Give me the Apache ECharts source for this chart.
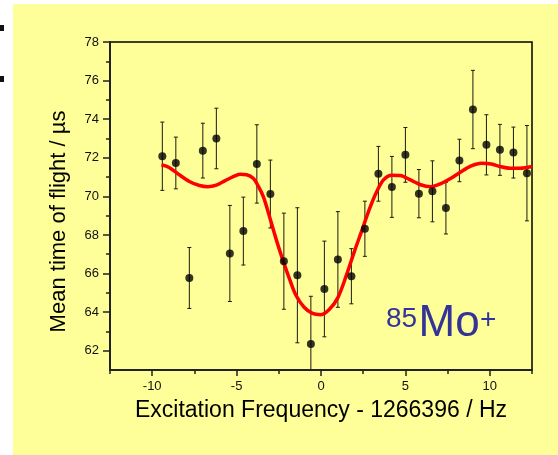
<!DOCTYPE html>
<html><head><meta charset="utf-8">
<script src="https://cdn.jsdelivr.net/npm/echarts@6/dist/echarts.min.js"></script>
<style>html,body{margin:0;padding:0;background:#fff}#c{width:558px;height:455px}</style>
</head><body><div id="c"></div>
<script>
// Measured data: frequency offset (Hz), mean time of flight (µs), error (µs)
const freqOffsets = [-9.4,-8.6,-7.8,-7.0,-6.2,-5.4,-4.6,-3.8,-3.0,-2.2,-1.4,-0.6,0.2,1.0,1.8,2.6,3.4,4.2,5.0,5.8,6.6,7.4,8.2,9.0,9.8,10.6,11.4,12.2];
const meanTof = [72.08,71.73,65.77,72.37,73.0,67.04,68.2,71.68,70.12,66.64,65.91,62.35,65.2,66.73,65.86,68.32,71.17,70.49,72.15,70.14,70.26,69.39,71.86,74.5,72.67,72.41,72.27,71.2];
const tofErr = [1.77,1.34,1.58,1.42,1.57,2.49,1.76,2.03,1.76,2.49,3.5,2.47,2.48,2.48,1.43,1.43,1.42,1.58,1.42,1.25,1.58,1.34,1.1,2.03,1.56,1.32,1.32,2.47];
// Fit curve
const fitX = [-9.45,-9.0,-8.4,-7.8,-7.2,-6.7,-6.2,-5.7,-5.2,-4.8,-4.4,-4.0,-3.7,-3.4,-3.1,-2.7,-2.3,-1.9,-1.5,-1.0,-0.5,0.0,0.5,1.0,1.5,2.0,2.45,2.85,3.25,3.7,4.2,4.7,5.3,5.9,6.5,7.1,7.7,8.3,8.9,9.5,10.1,10.6,11.2,11.8,12.5];
const fitY = [71.64,71.5,71.12,70.77,70.56,70.5,70.58,70.8,71.02,71.14,71.12,70.92,70.5,69.95,69.1,67.9,66.8,65.8,64.9,64.25,63.93,63.87,64.15,64.75,65.9,67.2,68.3,69.3,70.15,70.85,71.1,71.08,70.85,70.6,70.5,70.66,70.94,71.28,71.58,71.72,71.68,71.55,71.46,71.46,71.55];
// Axis ticks
const xMajorTicks = [-10,-5,0,5,10];
const xMinorTicks = [-12.5,-7.5,-2.5,2.5,7.5,12.5];
const yMajorTicks = [62,64,66,68,70,72,74,76,78];
const yMinorTicks = [63,65,67,69,71,73,75,77];

const FONT = 'Liberation Sans, Arial, sans-serif';
const chart = echarts.init(document.getElementById('c'));

function renderErr(params, api){
  const x = api.value(0), lo = api.value(1), hi = api.value(2);
  const pHi = api.coord([x, hi]), pLo = api.coord([x, lo]);
  const cap = 2;
  const style = {stroke:'#1a1a10', lineWidth:1};
  return {type:'group', children:[
    {type:'line', shape:{x1:pHi[0],y1:pHi[1],x2:pLo[0],y2:pLo[1]}, style:style},
    {type:'line', shape:{x1:pHi[0]-cap,y1:pHi[1],x2:pHi[0]+cap,y2:pHi[1]}, style:style},
    {type:'line', shape:{x1:pLo[0]-cap,y1:pLo[1],x2:pLo[0]+cap,y2:pLo[1]}, style:style}
  ]};
}

const option = {
  backgroundColor:'#ffff99',
  animation:false,
  grid:{left:110, top:42, width:422, height:328, show:true, borderColor:'#000', borderWidth:1.5, backgroundColor:'transparent'},
  xAxis:[{
    type:'value', min:-12.5, max:12.5, position:'bottom',
    axisLine:{show:true, onZero:false, lineStyle:{color:'#222', width:2}},
    axisTick:{show:true, customValues:xMajorTicks, length:6, lineStyle:{color:'#222', width:1.5}},
    axisLabel:{show:true, customValues:xMajorTicks, margin:10, fontSize:13, color:'#111', fontFamily:FONT},
    splitLine:{show:false},
    name:'Excitation Frequency - 1266396 / Hz', nameLocation:'middle', nameGap:29,
    nameTextStyle:{fontSize:23, color:'#000', fontFamily:FONT}
  },{
    type:'value', min:-12.5, max:12.5, position:'bottom',
    axisLine:{show:false, onZero:false},
    axisTick:{show:true, customValues:xMinorTicks, length:4, lineStyle:{color:'#222', width:1.5}},
    axisLabel:{show:false}, splitLine:{show:false}
  }],
  yAxis:[{
    type:'value', min:61, max:78, position:'left',
    axisLine:{show:true, onZero:false, lineStyle:{color:'#222', width:2}},
    axisTick:{show:true, customValues:yMajorTicks, length:7, lineStyle:{color:'#222', width:1.5}},
    axisLabel:{show:true, customValues:yMajorTicks, margin:11, fontSize:13, color:'#111', fontFamily:FONT},
    splitLine:{show:false},
    name:'Mean time of flight / \u00b5s', nameLocation:'middle', nameGap:40,
    nameTextStyle:{fontSize:22, color:'#000', fontFamily:FONT, padding:[0,31,0,0]}
  },{
    type:'value', min:61, max:78, position:'left',
    axisLine:{show:false, onZero:false},
    axisTick:{show:true, customValues:yMinorTicks, length:4, lineStyle:{color:'#222', width:1.5}},
    axisLabel:{show:false}, splitLine:{show:false}
  }],
  graphic:[
    {type:'rect', left:0, top:0, shape:{width:13, height:455}, style:{fill:'#ffffff'}, silent:true},
    {type:'rect', left:0, top:0, shape:{width:558, height:4}, style:{fill:'#ffffff'}, silent:true},
    {type:'rect', left:0, top:25, shape:{width:4, height:6}, style:{fill:'#111'}, silent:true},
    {type:'rect', left:0, top:76, shape:{width:4, height:6}, style:{fill:'#111'}, silent:true},
    {type:'text', x:386, y:305, z:100, style:{text:'85', fontSize:28, fontFamily:FONT, fill:'#333399', verticalAlign:'top'}},
    {type:'text', x:418.5, y:302, z:100, style:{text:'Mo', fontSize:44, fontFamily:FONT, fill:'#333399', verticalAlign:'top'}},
    {type:'text', x:480, y:306, z:100, style:{text:'+', fontSize:28, fontFamily:FONT, fill:'#333399', verticalAlign:'top'}}
  ],
  series:[{
    type:'custom', renderItem:renderErr, clip:true, z:2,
    data: freqOffsets.map((x,i)=>[x, meanTof[i]-tofErr[i], meanTof[i]+tofErr[i]])
  },{
    type:'line', smooth:0.3, symbol:'none', clip:true, z:3,
    lineStyle:{color:'#ff0000', width:3.5},
    data: fitX.map((x,i)=>[x, fitY[i]])
  },{
    type:'scatter', symbolSize:8, z:4, itemStyle:{color:'#000'},
    data: freqOffsets.map((x,i)=>[x, meanTof[i]])
  }]
};
chart.setOption(option);
</script>
</body></html>
